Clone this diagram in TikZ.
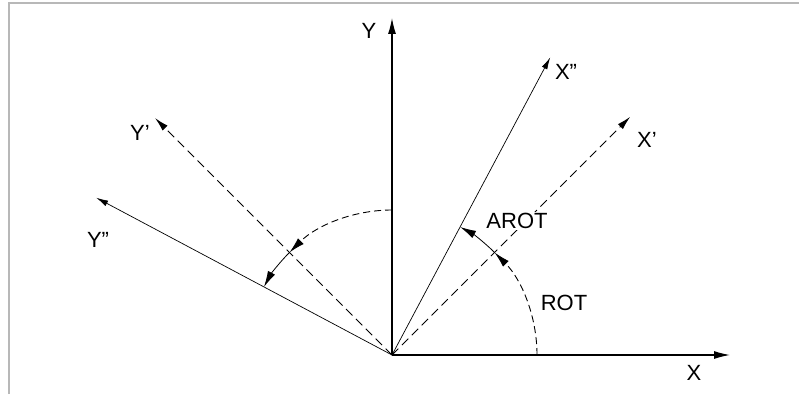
\documentclass[tikz,border=0pt]{standalone}
\usepackage{fontspec}
\setmainfont{Liberation Sans}
\usetikzlibrary{arrows.meta,calc}
\definecolor{framegray}{HTML}{B8B8B8}
\begin{document}
\begin{tikzpicture}[x=1pt,y=1pt,
  axis/.style={line width=1.2pt,-{Latex[length=16pt,width=8pt]}},
  thinax/.style={line width=0.7pt,-{Latex[length=12pt,width=6pt]}},
  dashax/.style={line width=1pt,dash pattern=on 9pt off 5pt,-{Latex[length=14pt,width=7pt]}},
  arcdash/.style={line width=0.9pt,dash pattern=on 7pt off 4pt,-{Latex[length=16pt,width=8pt]}},
  arcsolid/.style={line width=0.8pt,-{Latex[length=16pt,width=8pt]}},
  lbl/.style={font=\fontsize{22}{24}\selectfont,inner sep=1pt,fill=white}]
\useasboundingbox (0,0) rectangle (799,394);
% frame
\draw[framegray,line width=2pt] (9,0) -- (9,390.5) -- (799,390.5);
% origin and axis ends
\coordinate (O) at (392,39);
\coordinate (Xe) at ($(O)+(0:338pt)$);
\coordinate (Ye) at ($(O)+(90:337pt)$);
\coordinate (X1e) at ($(O)+(45:337pt)$);
\coordinate (X2e) at ($(O)+(62:337pt)$);
\coordinate (Y1e) at ($(O)+(135:335pt)$);
\coordinate (Y2e) at ($(O)+(152:335pt)$);
% axes
\draw[axis] (O) -- (Xe);
\draw[axis] (O) -- (Ye);
\draw[dashax] (O) -- (X1e);
\draw[dashax] (O) -- (Y1e);
\draw[thinax] (O) -- (X2e);
\draw[thinax] (O) -- (Y2e);
% arcs
\coordinate (A0) at ($(O)+(0:145pt)$);
\coordinate (A45) at ($(O)+(45:145pt)$);
\coordinate (A90) at ($(O)+(90:145pt)$);
\coordinate (A135) at ($(O)+(135:145pt)$);
\draw[arcdash] (A0) arc[start angle=0,end angle=45,radius=145pt];
\draw[arcsolid] (A45) arc[start angle=45,end angle=62,radius=145pt];
\draw[arcdash] (A90) arc[start angle=90,end angle=135,radius=145pt];
\draw[arcsolid] (A135) arc[start angle=135,end angle=152,radius=145pt];
% labels
\node[lbl] (lY) at (369,363) {Y};
\node[lbl] (lX) at (694,21) {X};
\node[lbl] (lX2) at (566,322) {X\symbol{34}};
\node[lbl] (lX1) at (647,254) {X\symbol{39}};
\node[lbl] (lY1) at (140,261) {Y\symbol{39}};
\node[lbl] (lY2) at (98,154) {Y\symbol{34}};
\node[lbl] (lAROT) at (517,173) {AROT};
\node[lbl] (lROT) at (564,91) {ROT};
\end{tikzpicture}
\end{document}
